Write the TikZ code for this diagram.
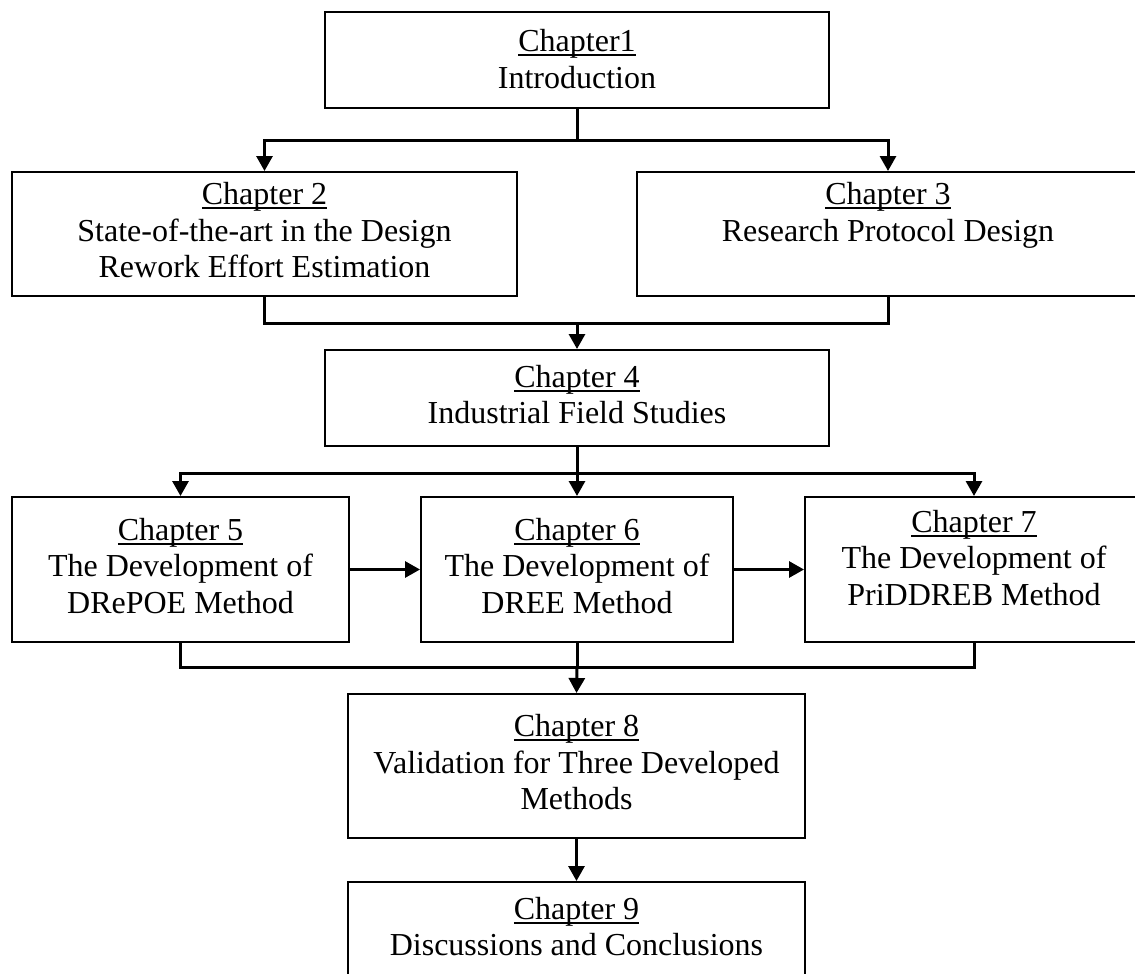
\documentclass[tikz,border=0pt]{standalone}
\usepackage{fontspec}
\setmainfont{Liberation Serif}
\usetikzlibrary{arrows.meta}
% underline drawn just under the baseline, crossing the descenders
\newlength\chapulwd
\newcommand\chapul[1]{\settowidth{\chapulwd}{#1}\rlap{\rule[-4.5pt]{\chapulwd}{2pt}}#1}
\begin{document}
\begin{tikzpicture}[x=1pt,y=-1pt,
  chbox/.style={draw=black, line width=2pt, inner sep=0pt, align=center,
    font=\fontsize{32}{36.5}\selectfont},
  conn/.style={line width=3pt},
  arr/.style={conn, -{Triangle[length=15pt,width=16pt]}},
]
\useasboundingbox (0,0) rectangle (1135,974);

% chapter boxes
\node[chbox, minimum width=504pt, minimum height=96pt] (c1) at (577,60)
  {\rule{0pt}{31pt}\chapul{Chapter1}\\\strut Introduction};
\node[chbox, minimum width=505pt, minimum height=124pt] (c2) at (264.5,234)
  {\strut\chapul{Chapter 2}\\\strut State-of-the-art in the Design\\\strut Rework Effort Estimation};
\node[chbox, minimum width=502pt, minimum height=124pt] (c3) at (888,234)
  {\strut\chapul{Chapter 3}\\\strut Research Protocol Design\\\strut};
\node[chbox, minimum width=504pt, minimum height=96pt] (c4) at (577,398)
  {\strut\chapul{Chapter 4}\\\strut Industrial Field Studies};
\node[chbox, minimum width=337pt, minimum height=145pt] (c5) at (180.5,569.5)
  {\strut\chapul{Chapter 5}\\\strut The Development of\\\strut DRePOE Method};
\node[chbox, minimum width=312pt, minimum height=145pt] (c6) at (577,569.5)
  {\strut\chapul{Chapter 6}\\\strut The Development of\\\strut DREE Method};
\node[chbox, minimum width=338pt, minimum height=145pt] (c7) at (974,569.5)
  {\strut\chapul{Chapter 7}\\\strut The Development of\\\strut PriDDREB Method\\[-20pt]\strut};
\node[chbox, minimum width=457pt, minimum height=144pt] (c8) at (576.5,766)
  {\strut\chapul{Chapter 8}\\\strut Validation for Three Developed\\\strut Methods};
\node[chbox, minimum width=457pt, minimum height=96pt] (c9) at (576.5,930)
  {\strut\chapul{Chapter 9}\\\strut Discussions and Conclusions};

% junction points of the connectors
\coordinate (j1) at (577,140);
\coordinate (j2) at (577,323);
\coordinate (j3) at (577,473);
\coordinate (j4) at (577,667);

% Chapter 1 -> Chapters 2 and 3
\draw[conn] (c1.south) -- (j1);
\draw[arr] (j1) -| (c2.north);
\draw[arr] (j1) -| (c3.north);

% Chapters 2 and 3 -> Chapter 4
\draw[conn] (c2.south) |- (j2);
\draw[conn] (c3.south) |- (j2);
\draw[arr] (j2) -- (c4.north);

% Chapter 4 -> Chapters 5, 6, 7
\draw[conn] (c4.south) -- (j3);
\draw[arr] (j3) -| (c5.north);
\draw[arr] (j3) -- (c6.north);
\draw[arr] (j3) -| (c7.north);

% sequence 5 -> 6 -> 7
\draw[arr] (c5.east) -- (c6.west);
\draw[arr] (c6.east) -- (c7.west);

% Chapters 5, 6, 7 -> Chapter 8
\draw[conn] (c5.south) |- (j4);
\draw[conn] (c7.south) |- (j4);
\draw[conn] (c6.south) -- (j4);
\draw[arr] (j4) -- (c8.north);

% Chapter 8 -> Chapter 9
\draw[arr] (c8.south) -- (c9.north);
\end{tikzpicture}
\end{document}
